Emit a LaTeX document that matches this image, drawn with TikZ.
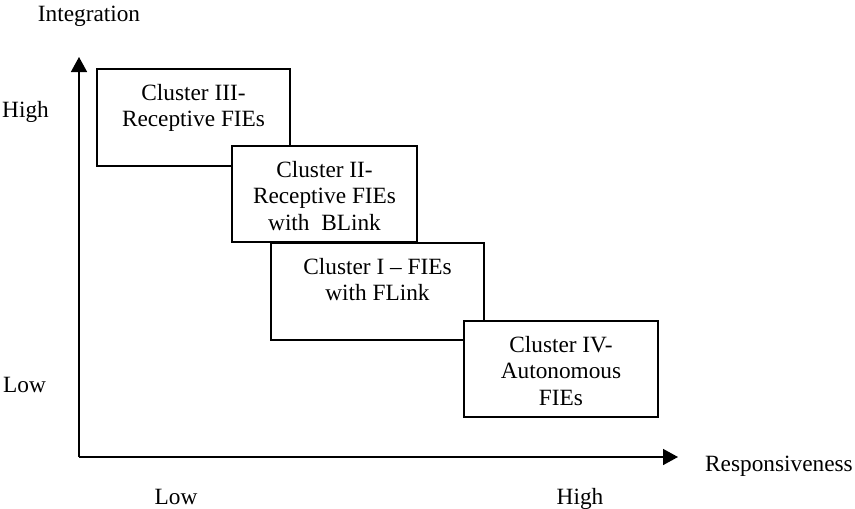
\documentclass[tikz,border=0pt]{standalone}
\usepackage{fontspec}
\setmainfont{Liberation Serif}
\usetikzlibrary{arrows.meta}
\begin{document}
\begin{tikzpicture}[x=1pt, y=-1pt,
  every node/.style={font=\fontsize{23.3}{26.5}\selectfont},
  axis/.style={line width=1.6pt, -{Triangle[length=15pt,width=16pt]}},
  clusterbox/.style={draw, fill=white, line width=1.4pt, inner sep=0pt, outer sep=0pt, anchor=north west},
  boxtext/.style={align=center, anchor=north, inner sep=0pt},
  axislabel/.style={inner sep=0pt}]
  \useasboundingbox (0,0) rectangle (855,509);

  % axes
  \coordinate (origin) at (79,457);
  \coordinate (ytip) at (79,57);
  \coordinate (xtip) at (678,457);
  \draw[axis] (origin) -- (ytip);
  \draw[axis] (origin) -- (xtip);

  % axis labels
  \node[axislabel, anchor=base] (integration) at (89,21) {Integration};
  \node[axislabel, anchor=base west] (yhigh) at (2,117) {High};
  \node[axislabel, anchor=base west] (ylow) at (3,392) {Low};
  \node[axislabel, anchor=base west] (resp) at (705,471) {Responsiveness};
  \node[axislabel, anchor=base] (xlow) at (176,504) {Low};
  \node[axislabel, anchor=base] (xhigh) at (580,504) {High};

  % clusters, each drawn over the previous one
  \node[clusterbox, minimum width=193pt, minimum height=97pt] (c3) at (97,69) {};
  \node[boxtext] (c3t) at ([yshift=-15pt]c3.north) {Cluster III-\\Receptive FIEs};

  \node[clusterbox, minimum width=185pt, minimum height=96pt] (c2) at (232,146) {};
  \node[boxtext] (c2t) at ([yshift=-15pt]c2.north) {Cluster II-\\Receptive FIEs\\with\ \ BLink};

  \node[clusterbox, minimum width=213pt, minimum height=97pt] (c1) at (271,243) {};
  \node[boxtext] (c1t) at ([yshift=-15pt]c1.north) {Cluster I -- FIEs\\with FLink};

  \node[clusterbox, minimum width=194pt, minimum height=96pt] (c4) at (464,321) {};
  \node[boxtext] (c4t) at ([yshift=-15pt]c4.north) {Cluster IV-\\Autonomous\\FIEs};
\end{tikzpicture}
\end{document}
